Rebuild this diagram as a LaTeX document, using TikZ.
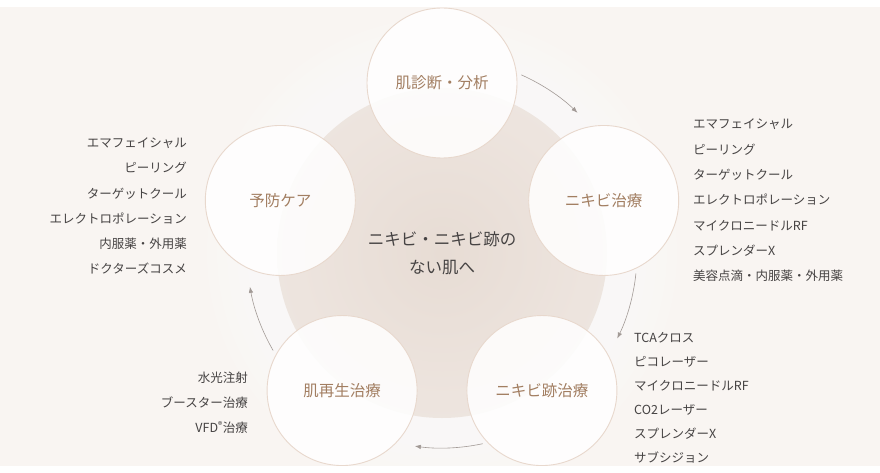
\documentclass[tikz,border=0pt]{standalone}
\usepackage{fontspec}
\setmainfont{Noto Sans CJK JP}
\usetikzlibrary{arrows.meta}

\definecolor{paper}{HTML}{F9F5F2}
\definecolor{diskin}{HTML}{E7DCD4}
\definecolor{diskmid}{HTML}{EDE4DE}
\definecolor{diskout}{HTML}{F1EAE5}
\definecolor{ringline}{HTML}{E8D8CD}
\definecolor{stagetext}{HTML}{A27E61}
\definecolor{listtext}{HTML}{464343}
\definecolor{flowline}{HTML}{A29A96}

\pgfdeclareradialshading{skinglow}{\pgfpoint{0bp}{0bp}}{color(0bp)=(diskin); color(22bp)=(diskmid); color(50bp)=(diskout)}

\tikzset{
  stage/.style={circle, draw=ringline, line width=0.9pt, fill=white, fill opacity=0.85,
    text opacity=1, minimum size=150pt, inner sep=0pt, text=stagetext,
    font=\fontsize{15.5}{18}\selectfont},
  menu/.style={inner sep=0pt, text=listtext},
  flow/.style={draw=flowline, line width=0.6pt, -{Latex[length=6pt,width=4.5pt]}},
}

\begin{document}
\begin{tikzpicture}[x=1pt,y=1pt]
    \useasboundingbox (0,0) rectangle (880,-473);
    \fill[white] (0,0) rectangle (880,-473);
    \fill[paper] (0,-7) rectangle (880,-466);
    \coordinate (hub) at (442,-253);
    % soft light band round the disc
    \foreach \r in {235,225,...,170}
        \fill[white,opacity=0.12] (hub) circle (\r);
    \shade[shading=skinglow] (hub) circle (165);
    % arrows between the stages
    \foreach \a [count=\i] in {66,-6,-78,-150} {
        \coordinate (flow\i) at ([shift={(\a:195)}]hub);
        \draw[flow] (flow\i) arc[start angle=\a, end angle=\a-20, radius=195];
    }
    % stages
    \node[stage] (diag) at ([shift={(90:170)}]hub) {肌診断・分析};
    \node[stage] (acne) at ([shift={(18:170)}]hub) {ニキビ治療};
    \node[stage] (scar) at ([shift={(-54:170)}]hub) {ニキビ跡治療};
    \node[stage] (regen) at ([shift={(-126:170)}]hub) {肌再生治療};
    \node[stage] (care) at ([shift={(162:170)}]hub) {予防ケア};
    \node[text=listtext, align=center, font=\fontsize{16.5}{28}\selectfont] (goal) at (hub)
        {ニキビ・ニキビ跡の\\ない肌へ};
    % treatment lists
    \node[menu, anchor=west, align=left, font=\fontsize{12.5}{25.3}\selectfont] (acnelist) at (693,-200.5)
        {エマフェイシャル\\ピーリング\\ターゲットクール\\エレクトロポレーション\\マイクロニードルRF\\スプレンダーX\\美容点滴・内服薬・外用薬};
    \node[menu, anchor=east, align=right, font=\fontsize{12.5}{25.1}\selectfont] (carelist) at (187,-206)
        {エマフェイシャル\\ピーリング\\ターゲットクール\\エレクトロポレーション\\内服薬・外用薬\\ドクターズコスメ};
    \node[menu, anchor=east, align=right, font=\fontsize{12.5}{24.8}\selectfont] (regenlist) at (248,-403)
        {水光注射\\ブースター治療\\VFD\textsuperscript{®}治療};
    \node[menu, anchor=west, align=left, font=\fontsize{12.5}{23.9}\selectfont] (scarlist) at (634,-398)
        {TCAクロス\\ピコレーザー\\マイクロニードルRF\\CO2レーザー\\スプレンダーX\\サブシジョン};
\end{tikzpicture}
\end{document}
